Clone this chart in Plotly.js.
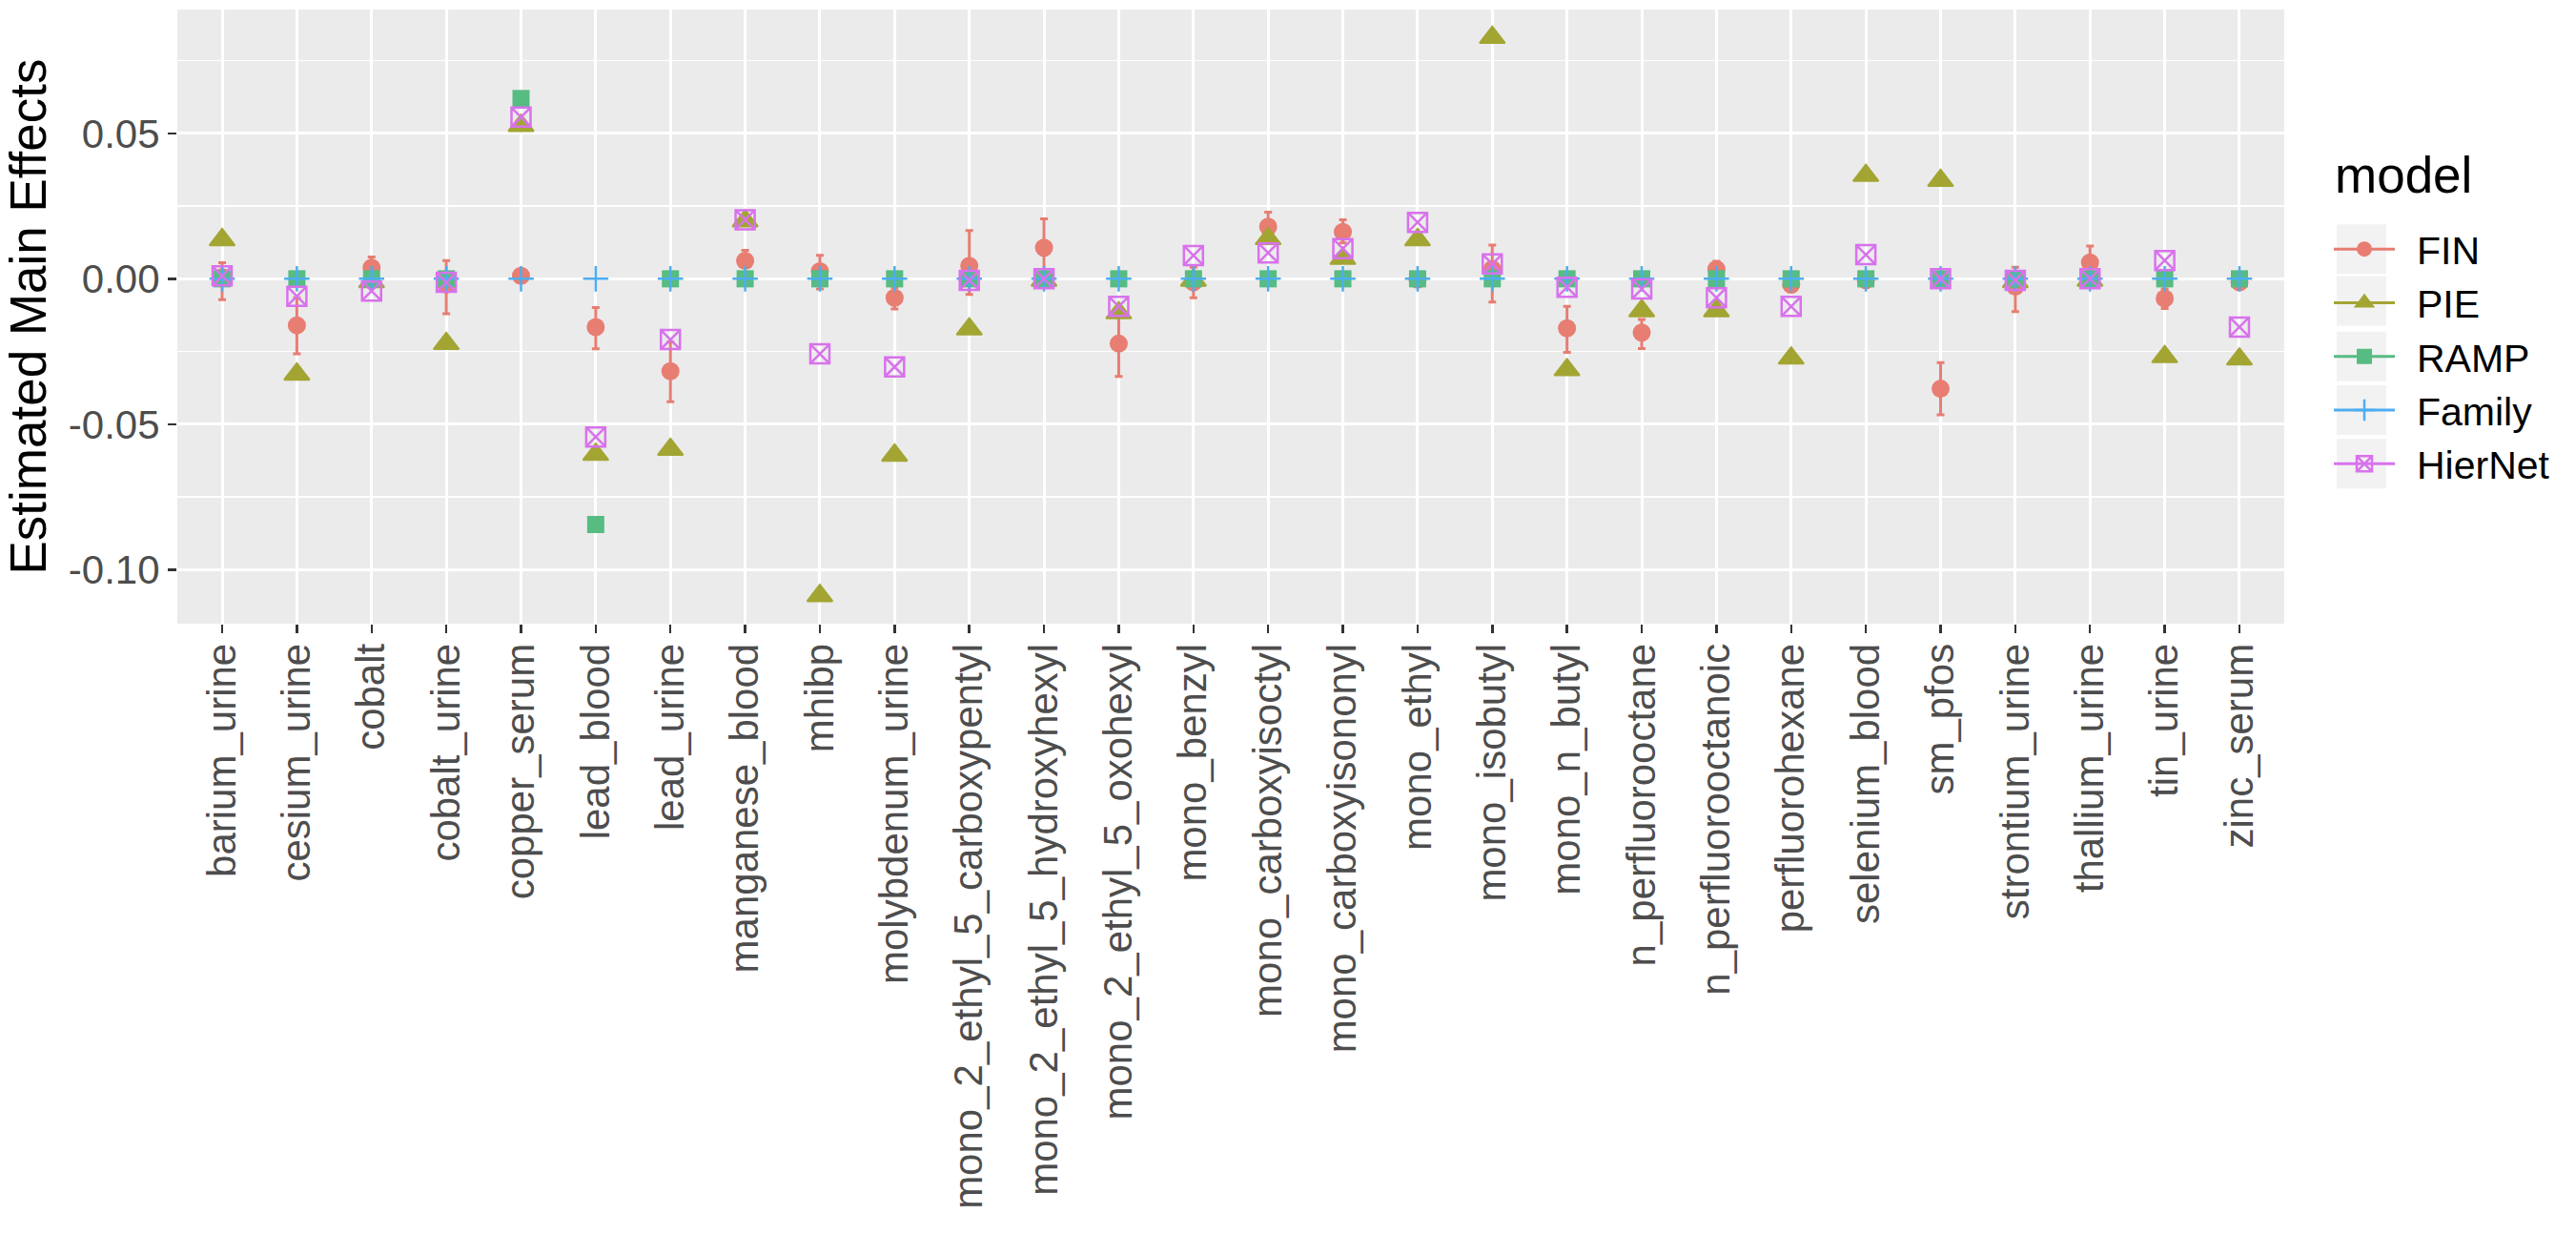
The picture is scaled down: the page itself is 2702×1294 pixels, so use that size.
<!DOCTYPE html>
<html>
<head>
<meta charset="utf-8">
<script src="https://cdn.plot.ly/plotly-3.0.1.min.js"></script>
<style>
  html, body { margin: 0; padding: 0; background: #ffffff; }
  #chart { width: 2702px; height: 1294px; position: relative; }
</style>
</head>
<body>
<div id="chart"></div>
<script>
// ---- Data ----
const categories = [
  "barium_urine", "cesium_urine", "cobalt", "cobalt_urine", "copper_serum",
  "lead_blood", "lead_urine", "manganese_blood", "mhibp", "molybdenum_urine",
  "mono_2_ethyl_5_carboxypentyl", "mono_2_ethyl_5_hydroxyhexyl", "mono_2_ethyl_5_oxohexyl",
  "mono_benzyl", "mono_carboxyisoctyl", "mono_carboxyisononyl", "mono_ethyl",
  "mono_isobutyl", "mono_n_butyl", "n_perfluorooctane", "n_perfluorooctanoic",
  "perfluorohexane", "selenium_blood", "sm_pfos", "strontium_urine",
  "thallium_urine", "tin_urine", "zinc_serum"
];

const finValues = [
  0.0005, -0.0160, 0.0038, -0.0020, 0.0010,
  -0.0166, -0.0318, 0.0062, 0.0026, -0.0065,
  0.0045, 0.0107, -0.0223,
  -0.0012, 0.0179, 0.0161, -0.0003,
  0.0033, -0.0170, -0.0185, 0.0033,
  -0.0020, -0.0005, -0.0378, -0.0027,
  0.0056, -0.0068, -0.0012
];
const finUpper = [
  0.0055, -0.0065, 0.0075, 0.0063, 0.0025,
  -0.0099, -0.0218, 0.0098, 0.0081, -0.0030,
  0.0166, 0.0206, -0.0110,
  0.0040, 0.0229, 0.0203, 0.0010,
  0.0116, -0.0095, -0.0140, 0.0060,
  0.0015, 0.0005, -0.0288, 0.0040,
  0.0113, -0.0035, 0.0010
];
const finLower = [
  -0.0072, -0.0258, 0.0000, -0.0120, -0.0005,
  -0.0241, -0.0423, 0.0040, -0.0035, -0.0104,
  -0.0054, 0.0010, -0.0336,
  -0.0065, 0.0130, 0.0123, -0.0015,
  -0.0080, -0.0253, -0.0240, 0.0000,
  -0.0045, -0.0025, -0.0468, -0.0113,
  0.0000, -0.0102, -0.0030
];
const pieValues = [
  0.0134, -0.0328, -0.0010, -0.0223, 0.0527,
  -0.0604, -0.0587, 0.0199, -0.1090, -0.0607,
  -0.0173, -0.0005, -0.0117,
  -0.0005, 0.0138, 0.0070, 0.0134,
  0.0830, -0.0313, -0.0110, -0.0110,
  -0.0273, 0.0355, 0.0338, -0.0010,
  -0.0005, -0.0268, -0.0276
];
const rampValues = [
  0, 0, 0, 0, 0.0620,
  -0.0845, 0, 0, 0, 0,
  0, 0, 0,
  0, 0, 0, 0,
  0, 0, 0, 0,
  0, 0, 0, 0,
  0, 0, 0
];
const familyValues = [
  0, 0, 0, 0, 0,
  0, 0, 0, 0, 0,
  0, 0, 0,
  0, 0, 0, 0,
  0, 0, 0, 0,
  0, 0, 0, 0,
  0, 0, 0
];
const hiernetValues = [
  0.0010, -0.0060, -0.0042, -0.0012, 0.0556,
  -0.0544, -0.0209, 0.0203, -0.0258, -0.0303,
  -0.0005, 0.0000, -0.0095,
  0.0080, 0.0089, 0.0104, 0.0194,
  0.0051, -0.0029, -0.0035, -0.0065,
  -0.0095, 0.0083, 0.0000, -0.0005,
  0.0000, 0.0063, -0.0166
];

const modelNames = ["FIN", "PIE", "RAMP", "Family", "HierNet"];
const legendTitle = "model";
const yTitle = "Estimated Main Effects";
const yTickVals = [-0.10, -0.05, 0.00, 0.05];
const yTickText = ["-0.10", "-0.05", "0.00", "0.05"];
const yMinorVals = [-0.075, -0.025, 0.025, 0.075];

// ---- Styles ----
const colors = {
  FIN: "#E87D72", PIE: "#A3A533", RAMP: "#56BC82", Family: "#4EADF0", HierNet: "#D872EC"
};
const FONT = "Liberation Sans, Arial, Helvetica, sans-serif";

// plot-area geometry in px (used to place the legend pieces)
const W = 2702, H = 1294;
const M = { l: 186, r: 306, t: 10, b: 640 };
const PW = W - M.l - M.r, PH = H - M.t - M.b;
const px2paperX = px => (px - M.l) / PW;
const px2paperY = py => (H - M.b - py) / PH;

// isolate each point with a gap so the legend can show a key line but no line joins points
function gapped(arr) {
  const out = [];
  arr.forEach((v, i) => { out.push(v); if (i < arr.length - 1) out.push(null); });
  return out;
}
const xGapped = gapped(categories);

function makeTrace(name, values, marker, extra) {
  const t = {
    type: "scatter",
    mode: "lines+markers",
    name: name,
    x: xGapped,
    y: gapped(values),
    connectgaps: false,
    line: { color: colors[name], width: 3 },
    marker: marker,
    cliponaxis: false,
    hoverinfo: "x+y+name"
  };
  return Object.assign(t, extra || {});
}

const finPlus = finUpper.map((u, i) => u - finValues[i]);
const finMinus = finValues.map((v, i) => v - finLower[i]);

const traces = [
  makeTrace(modelNames[0], finValues,
    { symbol: "circle", size: 19, color: colors.FIN },
    { error_y: { type: "data", symmetric: false, array: gapped(finPlus), arrayminus: gapped(finMinus),
                 color: colors.FIN, thickness: 3, width: 4 } }),
  makeTrace(modelNames[1], pieValues,
    { symbol: "triangle-up", size: 23, color: colors.PIE, line: { width: 2, color: colors.PIE } }),
  makeTrace(modelNames[2], rampValues, { symbol: "square", size: 18, color: colors.RAMP }),
  makeTrace(modelNames[3], familyValues,
    { symbol: "cross-thin-open", size: 19, color: colors.Family, line: { width: 2.5, color: colors.Family } }),
  makeTrace(modelNames[4], hiernetValues,
    { symbol: "square-x-open", size: 20, color: colors.HierNet, line: { width: 2.5, color: colors.HierNet } })
];

const layout = {
  width: W,
  height: H,
  margin: { l: M.l, r: M.r, t: M.t, b: M.b, pad: 0 },
  paper_bgcolor: "#FFFFFF",
  plot_bgcolor: "#EBEBEB",
  font: { family: FONT, color: "#000000" },
  showlegend: true,
  legend: {
    x: px2paperX(2443), xanchor: "left",
    y: px2paperY(228), yanchor: "top",
    bgcolor: "rgba(0,0,0,0)",
    font: { size: 41, color: "#000000", family: FONT },
    itemwidth: 64,
    tracegroupgap: 0
  },
  annotations: [{
    text: legendTitle,
    xref: "paper", yref: "paper",
    x: px2paperX(2447), y: px2paperY(183),
    xanchor: "left", yanchor: "middle",
    showarrow: false,
    font: { size: 53, color: "#000000", family: FONT }
  }],
  xaxis: {
    type: "category",
    categoryorder: "array",
    categoryarray: categories,
    range: [-0.6, categories.length - 0.4],
    showgrid: true,
    gridcolor: "#FFFFFF",
    gridwidth: 3,
    zeroline: false,
    showline: false,
    ticks: "outside",
    ticklen: 9,
    tickwidth: 2.5,
    tickcolor: "#333333",
    tickangle: -90,
    tickfont: { size: 42, color: "#4D4D4D", family: FONT },
    ticklabelstandoff: -6,
    automargin: false,
    fixedrange: true
  },
  yaxis: {
    range: [-0.1186, 0.0926],
    tickmode: "array",
    tickvals: yTickVals,
    ticktext: yTickText,
    showgrid: true,
    gridcolor: "#FFFFFF",
    gridwidth: 3,
    minor: { tickmode: "array", tickvals: yMinorVals, showgrid: true, gridcolor: "#FFFFFF", gridwidth: 1.5, ticks: "" },
    zeroline: false,
    showline: false,
    ticks: "outside",
    ticklen: 9,
    tickwidth: 2.5,
    tickcolor: "#333333",
    tickfont: { size: 42, color: "#4D4D4D", family: FONT },
    title: { text: yTitle, font: { size: 53, color: "#000000", family: FONT }, standoff: 18 },
    automargin: false,
    fixedrange: true
  }
};

const LEGEND_TEXT_SHIFT = 18;

Plotly.newPlot("chart", traces, layout, { staticPlot: true, displayModeBar: false }).then(gd => {
  // grey key backgrounds behind each legend glyph, placed at the legend items' own positions
  const host = gd.getBoundingClientRect();
  const items = gd.querySelectorAll(".legend .traces");
  const shapes = [];
  items.forEach(it => {
    const sym = it.querySelector(".legendsymbols") || it;
    const r = sym.getBoundingClientRect();
    const cy = (r.top + r.bottom) / 2 - host.top;
    shapes.push({
      type: "rect", xref: "paper", yref: "paper", layer: "below",
      x0: px2paperX(2451), x1: px2paperX(2503),
      y0: px2paperY(cy - 26), y1: px2paperY(cy + 26),
      fillcolor: "#F2F2F2", line: { width: 0 }
    });
  });
  const p = shapes.length ? Plotly.relayout(gd, { shapes: shapes }) : Promise.resolve(gd);
  return p;
}).then(() => {
  // small gap between key boxes and legend labels, as in the reference
  const root = document.getElementById("chart");
  root.querySelectorAll(".legend .legendtext").forEach(t => {
    const x = parseFloat(t.getAttribute("x") || "0");
    t.setAttribute("x", x + LEGEND_TEXT_SHIFT);
    t.querySelectorAll("tspan[x]").forEach(s => {
      s.setAttribute("x", parseFloat(s.getAttribute("x")) + LEGEND_TEXT_SHIFT);
    });
  });
  // let the shifted labels show in full
  root.querySelectorAll(".legend [clip-path]").forEach(el => el.removeAttribute("clip-path"));
});
</script>
</body>
</html>
